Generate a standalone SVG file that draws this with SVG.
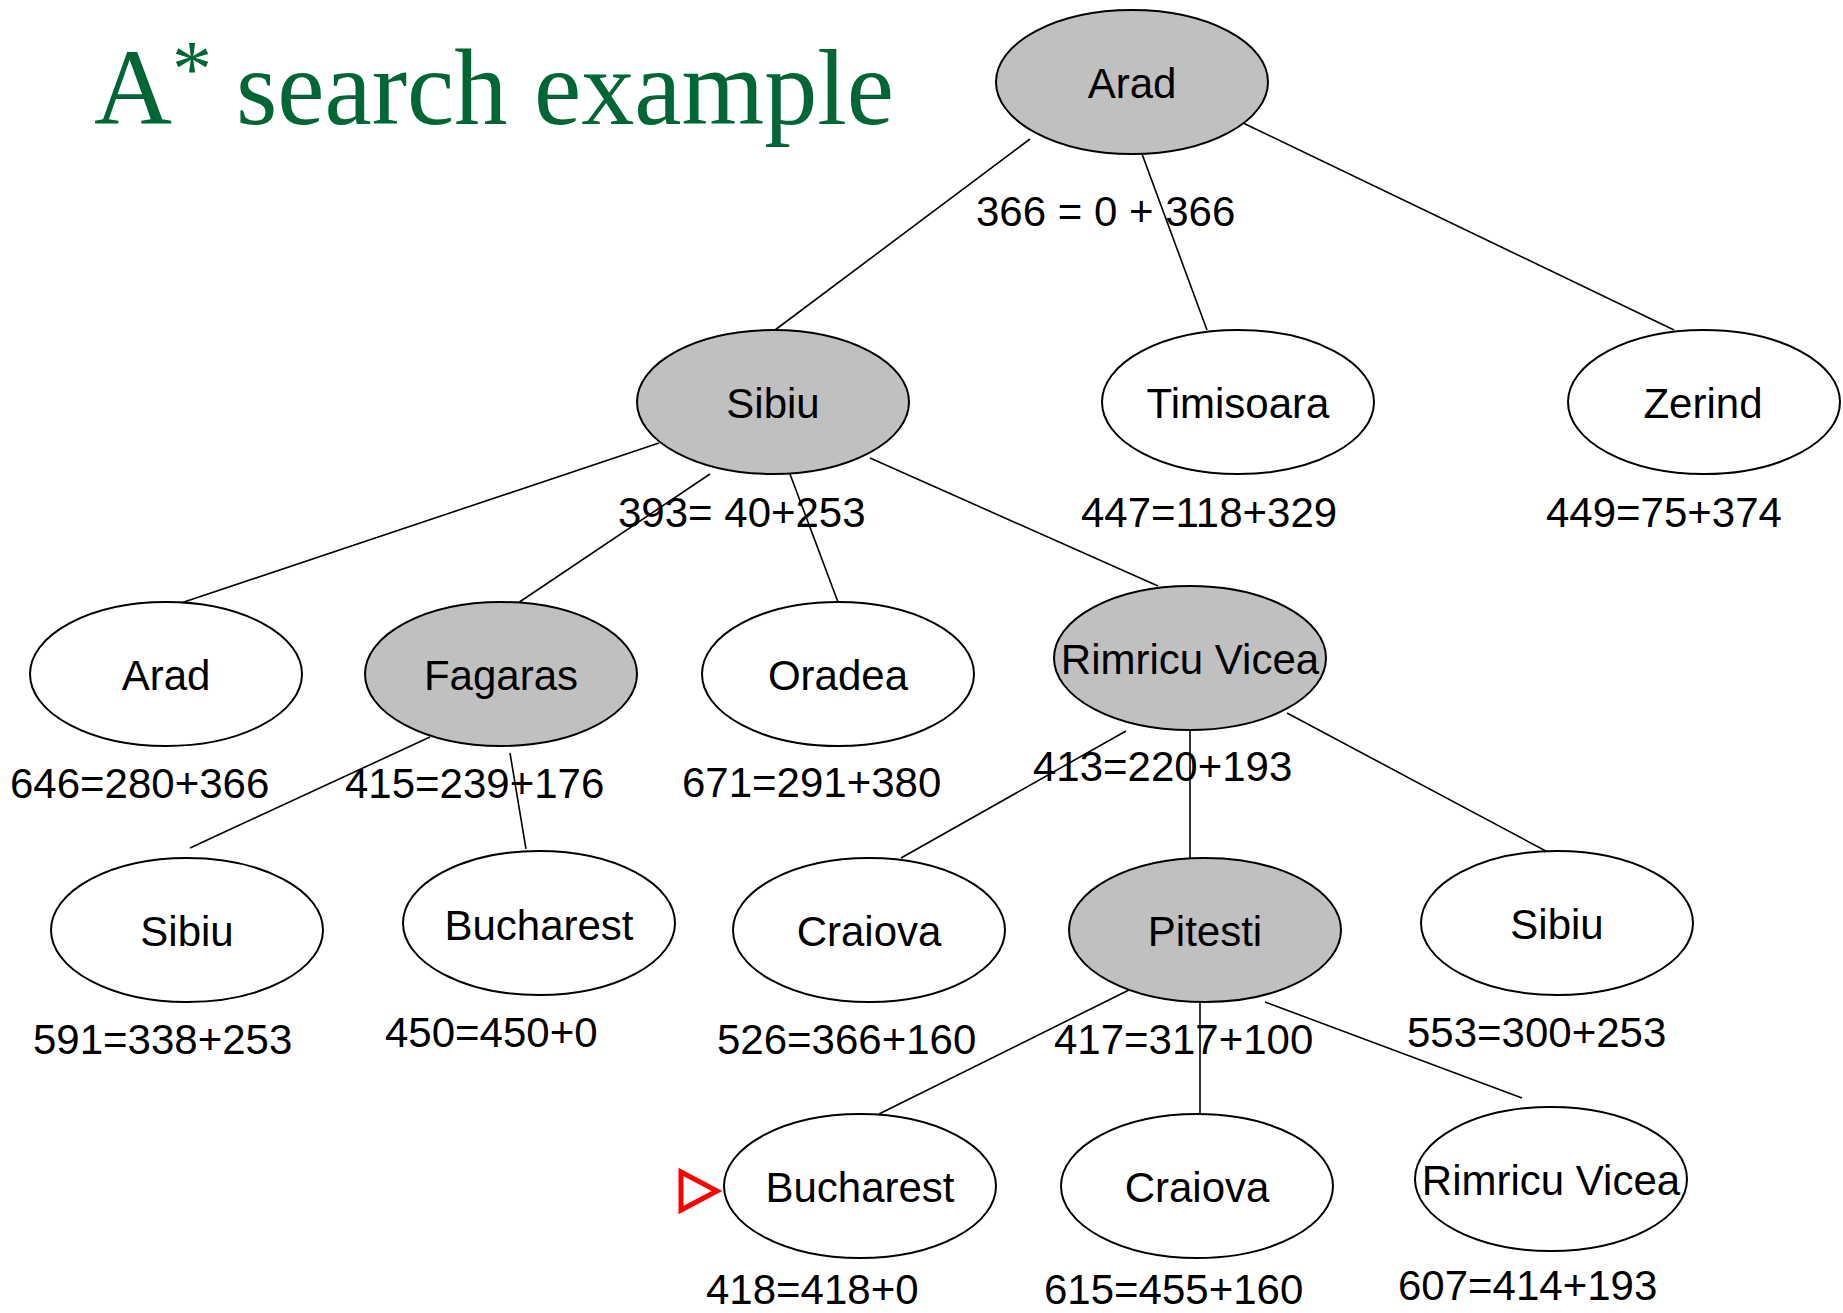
<svg xmlns="http://www.w3.org/2000/svg" width="1843" height="1313" viewBox="0 0 1843 1313">
  <style>
    .node ellipse { stroke: #000; stroke-width: 2; }
    .open { fill: #fff; }
    .expanded { fill: #c0c0c0; }
    .name { font-family: "Liberation Sans", Arial, sans-serif; font-size: 42px; fill: #000; text-anchor: middle; }
    .f { font-family: "Liberation Sans", Arial, sans-serif; font-size: 42px; fill: #000; }
    .edges line { stroke: #000; stroke-width: 1.6; }
    .title { font-family: "Liberation Serif", "Times New Roman", serif; fill: #006633; }
  </style>

  <!-- Title -->
  <g id="title">
    <text class="title" x="94" y="124" font-size="108" textLength="78" lengthAdjust="spacingAndGlyphs">A</text>
    <text class="title" x="172" y="96" font-size="80">*</text>
    <text class="title" x="236" y="124" font-size="108" textLength="658" lengthAdjust="spacingAndGlyphs">search example</text>
  </g>

  <!-- Tree edges -->
  <g id="connectors" class="edges">
    <line x1="1030" y1="139" x2="775" y2="330"/>
    <line x1="1142" y1="154" x2="1207" y2="330"/>
    <line x1="1241" y1="122" x2="1674" y2="330"/>
    <line x1="659" y1="443" x2="181" y2="603"/>
    <line x1="710" y1="474" x2="518" y2="603"/>
    <line x1="790" y1="474" x2="838" y2="602"/>
    <line x1="870" y1="458" x2="1158" y2="586"/>
    <line x1="430" y1="737" x2="190" y2="848"/>
    <line x1="510" y1="753" x2="526" y2="849"/>
    <line x1="1126" y1="731" x2="901" y2="858"/>
    <line x1="1190" y1="731" x2="1190" y2="858"/>
    <line x1="1287" y1="713" x2="1559" y2="858"/>
    <line x1="1135" y1="987" x2="879" y2="1114"/>
    <line x1="1200" y1="1002" x2="1200" y2="1114"/>
    <line x1="1265" y1="1002" x2="1522" y2="1098"/>
  </g>

  <!-- Depth 0 -->
  <g id="n-arad-root" class="node">
    <ellipse class="expanded" cx="1132" cy="82" rx="136" ry="72"/>
    <text class="name" x="1132" y="98">Arad</text>
  </g>
  <text class="f" x="976" y="226">366 = 0 + 366</text>

  <!-- Depth 1 -->
  <g id="n-sibiu" class="node">
    <ellipse class="expanded" cx="773" cy="402" rx="136" ry="72"/>
    <text class="name" x="773" y="418">Sibiu</text>
  </g>
  <g id="n-timisoara" class="node">
    <ellipse class="open" cx="1238" cy="402" rx="136" ry="72"/>
    <text class="name" x="1238" y="418">Timisoara</text>
  </g>
  <g id="n-zerind" class="node">
    <ellipse class="open" cx="1704" cy="402" rx="136" ry="72"/>
    <text class="name" x="1703" y="418">Zerind</text>
  </g>
  <text class="f" x="618" y="527">393= 40+253</text>
  <text class="f" x="1081" y="527">447=118+329</text>
  <text class="f" x="1546" y="527">449=75+374</text>

  <!-- Depth 2 -->
  <g id="n-arad-2" class="node">
    <ellipse class="open" cx="166" cy="674" rx="136" ry="72"/>
    <text class="name" x="166" y="690">Arad</text>
  </g>
  <g id="n-fagaras" class="node">
    <ellipse class="expanded" cx="501" cy="674" rx="136" ry="72"/>
    <text class="name" x="501" y="690">Fagaras</text>
  </g>
  <g id="n-oradea" class="node">
    <ellipse class="open" cx="838" cy="674" rx="136" ry="72"/>
    <text class="name" x="838" y="690">Oradea</text>
  </g>
  <g id="n-rimricu" class="node">
    <ellipse class="expanded" cx="1190" cy="658" rx="136" ry="72"/>
    <text class="name" x="1190" y="674">Rimricu Vicea</text>
  </g>
  <text class="f" x="10" y="798">646=280+366</text>
  <text class="f" x="345" y="798">415=239+176</text>
  <text class="f" x="682" y="797">671=291+380</text>
  <text class="f" x="1033" y="781">413=220+193</text>

  <!-- Depth 3 -->
  <g id="n-sibiu-3a" class="node">
    <ellipse class="open" cx="187" cy="930" rx="136" ry="72"/>
    <text class="name" x="187" y="946">Sibiu</text>
  </g>
  <g id="n-bucharest-3" class="node">
    <ellipse class="open" cx="539" cy="923" rx="136" ry="72"/>
    <text class="name" x="539" y="940">Bucharest</text>
  </g>
  <g id="n-craiova-3" class="node">
    <ellipse class="open" cx="869" cy="930" rx="136" ry="72"/>
    <text class="name" x="869" y="946">Craiova</text>
  </g>
  <g id="n-pitesti" class="node">
    <ellipse class="expanded" cx="1205" cy="930" rx="136" ry="72"/>
    <text class="name" x="1205" y="946">Pitesti</text>
  </g>
  <g id="n-sibiu-3b" class="node">
    <ellipse class="open" cx="1557" cy="923" rx="136" ry="72"/>
    <text class="name" x="1557" y="939">Sibiu</text>
  </g>
  <text class="f" x="33" y="1054">591=338+253</text>
  <text class="f" x="385" y="1047">450=450+0</text>
  <text class="f" x="717" y="1054">526=366+160</text>
  <text class="f" x="1054" y="1054">417=317+100</text>
  <text class="f" x="1407" y="1047">553=300+253</text>

  <!-- Depth 4 -->
  <g id="n-bucharest-4" class="node">
    <ellipse class="open" cx="860" cy="1186" rx="136" ry="72"/>
    <text class="name" x="860" y="1202">Bucharest</text>
  </g>
  <g id="n-craiova-4" class="node">
    <ellipse class="open" cx="1197" cy="1186" rx="136" ry="72"/>
    <text class="name" x="1197" y="1202">Craiova</text>
  </g>
  <g id="n-rimricu-4" class="node">
    <ellipse class="open" cx="1551" cy="1179" rx="136" ry="72"/>
    <text class="name" x="1551" y="1195">Rimricu Vicea</text>
  </g>
  <text class="f" x="706" y="1304">418=418+0</text>
  <text class="f" x="1044" y="1304">615=455+160</text>
  <text class="f" x="1398" y="1300">607=414+193</text>

  <!-- Goal marker -->
  <g id="goal-marker">
    <polygon points="681,1172 717,1191 681,1210" fill="none" stroke="#ff0000" stroke-width="5"/>
  </g>
</svg>
